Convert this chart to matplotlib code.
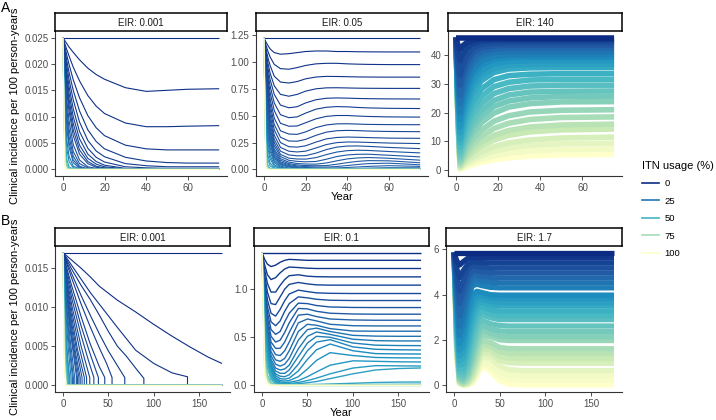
import numpy as np
import matplotlib
matplotlib.use("Agg")
import matplotlib.pyplot as plt
from matplotlib.colors import LinearSegmentedColormap
from matplotlib.lines import Line2D
from matplotlib.ticker import FormatStrFormatter

plt.rcParams['font.family'] = ['Liberation Sans', 'DejaVu Sans']

# ---------------- data ----------------
# A, EIR 0.001 : incidence values x 1e-3
a1_years = [0, 1, 2, 3, 5, 8, 12, 16, 20, 30, 40, 50, 60, 75]
a1_itn = [0, 1, 2, 3, 4, 5, 6, 7, 8, 9, 10, 12, 14, 16, 18, 20, 25, 30, 40, 50, 60, 70, 80, 90, 100]
a1_vals = [
    [25] * 14,
    [25, 24.4, 23.8, 23.2, 22.2, 20.8, 19.2, 18.0, 17.1, 15.5, 14.8, 15.0, 15.2, 15.3],
    [25, 23.8, 22.6, 21.5, 19.4, 16.8, 14.0, 12.0, 10.6, 8.8, 8.1, 8.1, 8.2, 8.3],
    [25, 23.2, 21.5, 19.9, 17.0, 13.6, 10.2, 7.9, 6.4, 4.6, 3.9, 3.7, 3.7, 3.7],
    [25, 22.6, 20.4, 18.4, 15.0, 11.1, 7.5, 5.3, 3.9, 2.3, 1.6, 1.3, 1.2, 1.2],
    [25, 22.0, 19.4, 17.0, 13.2, 9.0, 5.5, 3.5, 2.4, 1.1, 0.7, 0.5, 0.5, 0.5],
    [25, 21.4, 18.3, 15.7, 11.5, 7.2, 4.0, 2.3, 1.4, 0.5, 0.3, 0.2, 0.2, 0.2],
    [25, 20.8, 17.3, 14.4, 10.0, 5.8, 2.9, 1.5, 0.8, 0.2, 0.1, 0.1, 0.1, 0.1],
    [25, 20.2, 16.3, 13.2, 8.7, 4.6, 2.1, 1.0, 0.5, 0.1, 0, 0, 0, 0],
    [25, 19.6, 15.4, 12.1, 7.5, 3.7, 1.5, 0.6, 0.3, 0.05, 0, 0, 0, 0],
    [25, 19.0, 14.5, 11.0, 6.4, 2.9, 1.1, 0.4, 0.2, 0, 0, 0, 0, 0],
    [25, 17.8, 12.8, 9.2, 4.7, 1.8, 0.5, 0.2, 0.1, 0, 0, 0, 0, 0],
    [25, 16.7, 11.2, 7.6, 3.4, 1.1, 0.3, 0.1, 0, 0, 0, 0, 0, 0],
    [25, 15.6, 9.8, 6.2, 2.5, 0.6, 0.1] + [0] * 7,
    [25, 14.6, 8.6, 5.1, 1.8, 0.4, 0.1] + [0] * 7,
    [25, 13.6, 7.5, 4.2, 1.3, 0.2] + [0] * 8,
    [25, 11.4, 5.3, 2.5, 0.6, 0.1] + [0] * 8,
    [25, 9.5, 3.7, 1.5, 0.3] + [0] * 9,
    [25, 6.6, 1.8, 0.5, 0.05] + [0] * 9,
    [25, 4.5, 0.9, 0.2] + [0] * 10,
    [25, 3.0, 0.4, 0.1] + [0] * 10,
    [25, 2.0, 0.2] + [0] * 11,
    [25, 1.3, 0.1] + [0] * 11,
    [25, 0.8] + [0] * 12,
    [25, 0.5] + [0] * 12,
]

# A, EIR 0.05
a2_years = [0, 1, 2, 3, 5, 8, 12, 16, 20, 25, 30, 35, 40, 45, 50, 60, 75]
a2_itn = list(range(0, 21)) + [22, 24, 27, 30, 35, 40, 50, 60, 70, 80, 90, 100]
a2_vals = [
    [1.23] * 17,
    [1.23, 1.19, 1.155, 1.125, 1.09, 1.075, 1.08, 1.09, 1.10, 1.105, 1.105, 1.10, 1.10, 1.098, 1.097, 1.096, 1.096],
    [1.23, 1.16, 1.10, 1.05, 0.98, 0.94, 0.935, 0.95, 0.97, 0.985, 0.99, 0.99, 0.985, 0.982, 0.98, 0.978, 0.978],
    [1.23, 1.13, 1.04, 0.97, 0.87, 0.815, 0.806, 0.82, 0.845, 0.862, 0.868, 0.867, 0.865, 0.863, 0.862, 0.861, 0.861],
    [1.23, 1.10, 0.99, 0.90, 0.78, 0.70, 0.683, 0.70, 0.73, 0.752, 0.761, 0.762, 0.760, 0.758, 0.757, 0.756, 0.756],
    [1.23, 1.07, 0.94, 0.84, 0.70, 0.60, 0.575, 0.585, 0.62, 0.650, 0.664, 0.667, 0.665, 0.662, 0.66, 0.658, 0.657],
    [1.23, 1.04, 0.89, 0.78, 0.62, 0.51, 0.483, 0.49, 0.525, 0.562, 0.58, 0.586, 0.584, 0.578, 0.574, 0.57, 0.568],
    [1.23, 1.01, 0.85, 0.72, 0.55, 0.43, 0.403, 0.405, 0.435, 0.472, 0.495, 0.503, 0.503, 0.498, 0.494, 0.49, 0.488],
    [1.23, 0.98, 0.80, 0.66, 0.48, 0.36, 0.33, 0.327, 0.35, 0.39, 0.415, 0.425, 0.426, 0.423, 0.42, 0.418, 0.417],
    [1.23, 0.95, 0.76, 0.61, 0.42, 0.30, 0.265, 0.263, 0.28, 0.318, 0.348, 0.361, 0.364, 0.362, 0.358, 0.354, 0.352],
    [1.23, 0.92, 0.72, 0.56, 0.37, 0.25, 0.212, 0.208, 0.22, 0.255, 0.285, 0.298, 0.302, 0.30, 0.297, 0.292, 0.290],
    [1.23, 0.89, 0.68, 0.51, 0.32, 0.205, 0.17, 0.163, 0.17, 0.20, 0.232, 0.25, 0.256, 0.255, 0.252, 0.246, 0.241],
    [1.23, 0.86, 0.64, 0.47, 0.28, 0.17, 0.135, 0.127, 0.128, 0.152, 0.185, 0.208, 0.218, 0.219, 0.215, 0.205, 0.194],
    [1.23, 0.83, 0.60, 0.43, 0.25, 0.14, 0.105, 0.097, 0.096, 0.11, 0.138, 0.162, 0.175, 0.179, 0.177, 0.167, 0.154],
    [1.23, 0.80, 0.56, 0.39, 0.22, 0.12, 0.085, 0.075, 0.071, 0.074, 0.095, 0.12, 0.135, 0.141, 0.142, 0.132, 0.117],
    [1.23, 0.77, 0.53, 0.36, 0.19, 0.10, 0.068, 0.055, 0.05, 0.049, 0.06, 0.08, 0.098, 0.107, 0.111, 0.104, 0.086],
    [1.23, 0.74, 0.50, 0.33, 0.17, 0.085, 0.055, 0.042, 0.036, 0.034, 0.036, 0.048, 0.063, 0.075, 0.082, 0.08, 0.062],
    [1.23, 0.71, 0.47, 0.30, 0.15, 0.07, 0.045, 0.032, 0.026, 0.023, 0.022, 0.027, 0.036, 0.046, 0.054, 0.058, 0.043],
    [1.23, 0.68, 0.44, 0.28, 0.13, 0.06, 0.036, 0.024, 0.018, 0.014, 0.013, 0.014, 0.018, 0.023, 0.028, 0.035, 0.028],
    [1.23, 0.65, 0.41, 0.26, 0.115, 0.05, 0.029, 0.018, 0.012, 0.008, 0.006, 0.006, 0.007, 0.009, 0.012, 0.016, 0.015],
    [1.23, 0.62, 0.38, 0.24, 0.10, 0.042, 0.022, 0.013, 0.008, 0.005, 0.003, 0.003, 0.003, 0.004, 0.005, 0.007, 0.008],
    [1.23, 0.57, 0.33, 0.20, 0.08, 0.03, 0.013, 0.007, 0.004, 0.002, 0.001, 0.001, 0.001, 0.001, 0.002, 0.002, 0.003],
    [1.23, 0.52, 0.29, 0.17, 0.065, 0.02, 0.008, 0.004, 0.002, 0.001] + [0] * 7,
    [1.23, 0.46, 0.24, 0.13, 0.045, 0.012, 0.004, 0.002, 0.001] + [0] * 8,
    [1.23, 0.40, 0.19, 0.10, 0.03, 0.007, 0.002, 0.001] + [0] * 9,
    [1.23, 0.32, 0.13, 0.06, 0.015, 0.003, 0.001] + [0] * 10,
    [1.23, 0.25, 0.09, 0.035, 0.007, 0.001] + [0] * 11,
    [1.23, 0.15, 0.04, 0.012, 0.002] + [0] * 12,
    [1.23, 0.09, 0.018, 0.004] + [0] * 13,
    [1.23, 0.055, 0.008, 0.001] + [0] * 13,
    [1.23, 0.035, 0.004] + [0] * 14,
    [1.23, 0.022, 0.002] + [0] * 14,
    [1.23, 0.014, 0.001] + [0] * 14,
]

# A, EIR 140
a3_years = [0, 1, 2, 3, 5, 8, 12, 18, 25, 35, 50, 75]
a3_itn = list(range(0, 101, 4))
a3_vals = [
    [46] * 12,
    [46, 43.4, 42, 43.0, 44.2, 45.0, 45.4, 45.5, 45.5, 45.5, 45.5, 45.5],
    [46, 40.8, 38, 39.9, 42.3, 43.9, 44.7, 45.0, 45, 45, 45, 45],
    [46, 37.5, 33, 35.9, 39.6, 42.3, 43.6, 44.1, 44.2, 44.2, 44.2, 44.2],
    [46, 35.3, 29.5, 32.9, 37.3, 40.7, 42.4, 43.1, 43.3, 43.3, 43.3, 43.3],
    [46, 33.0, 26, 29.8, 34.9, 38.9, 41.1, 42.1, 42.3, 42.3, 42.3, 42.3],
    [46, 31.1, 23, 27.0, 32.6, 37.1, 39.7, 40.9, 41.1, 41.2, 41.2, 41.2],
    [46, 29.1, 20, 24.1, 29.9, 34.9, 37.9, 39.5, 39.9, 40.0, 40.0, 40.0],
    [46, 27.5, 17.5, 21.6, 27.6, 33.0, 36.5, 38.4, 39.0, 39.2, 39.2, 39.2],
    [46, 25.8, 15, 19.0, 25.1, 30.8, 34.6, 36.9, 37.7, 38.0, 38.0, 38.0],
    [46, 24.5, 13, 16.9, 22.9, 28.6, 32.8, 35.4, 36.4, 36.7, 36.8, 36.8],
    [46, 23.3, 11, 14.8, 20.7, 26.5, 31.0, 33.9, 35.1, 35.5, 35.6, 35.6],
    [46, 22.3, 9.5, 12.9, 18.3, 23.8, 28.2, 31.4, 32.8, 33.3, 33.5, 33.5],
    [46, 21.3, 8, 11.1, 16.0, 21.3, 25.6, 29.0, 30.5, 31.3, 31.5, 31.5],
    [46, 20.5, 6.8, 9.5, 14.0, 19.0, 23.2, 26.6, 28.3, 29.2, 29.5, 29.5],
    [46, 19.7, 5.5, 8.0, 12.1, 16.7, 20.8, 24.2, 26.1, 27.1, 27.4, 27.5],
    [46, 19.0, 4.5, 6.7, 10.5, 14.8, 18.7, 22.1, 24.0, 25.1, 25.6, 25.7],
    [46, 18.4, 3.5, 5.5, 8.9, 12.8, 16.5, 19.8, 21.9, 23.1, 23.7, 23.8],
    [46, 17.9, 2.8, 4.4, 7.3, 10.7, 13.9, 17.0, 18.9, 20.2, 20.8, 21.0],
    [46, 17.5, 2.2, 3.6, 6.0, 8.9, 11.7, 14.5, 16.3, 17.6, 18.3, 18.5],
    [46, 17.2, 1.7, 2.8, 4.8, 7.3, 9.7, 12.1, 13.8, 15.0, 15.7, 16.0],
    [46, 16.9, 1.3, 2.3, 4.0, 6.1, 8.3, 10.5, 12.1, 13.3, 14.0, 14.3],
    [46, 16.7, 1.0, 1.7, 3.0, 4.7, 6.4, 8.2, 9.5, 10.5, 11.2, 11.5],
    [46, 16.5, 0.7, 1.3, 2.3, 3.7, 5.1, 6.6, 7.7, 8.6, 9.2, 9.4],
    [46, 16.4, 0.5, 0.9, 1.7, 2.8, 3.8, 5.0, 5.9, 6.7, 7.2, 7.4],
    [46, 16.3, 0.3, 0.6, 1.2, 1.9, 2.7, 3.6, 4.3, 4.9, 5.3, 5.5],
]

# B, EIR 0.001 : each line has its own years (extinction drops), values x 1e-3
b1_itn = [0, 1, 2, 3, 4, 5, 6, 7, 8, 9, 10, 11, 12, 13, 14, 15, 16, 18, 20, 22, 25, 30, 35, 40, 45, 50, 60, 70, 80, 90, 100]
b1_years = [
    [0, 175],
    [0, 10, 20, 30, 40, 50, 60, 80, 100, 120, 140, 160, 175],
    [0, 10, 20, 30, 40, 50, 60, 80, 100, 120, 137, 137, 175],
    [0, 10, 20, 30, 40, 50, 60, 70, 80, 89, 89, 175],
    [0, 10, 20, 30, 40, 50, 60, 68, 68, 175],
    [0, 10, 20, 30, 40, 48, 54, 54, 175],
    [0, 5, 10, 20, 30, 40, 46, 46, 175],
    [0, 5, 10, 20, 30, 39, 39, 175],
    [0, 5, 10, 20, 28, 34, 34, 175],
    [0, 5, 10, 20, 29.5, 29.5, 175],
    [0, 5, 10, 18, 26, 26, 175],
    [0, 5, 10, 16, 23.5, 23.5, 175],
    [0, 5, 10, 15, 21, 21, 175],
    [0, 5, 10, 14, 19, 19, 175],
    [0, 5, 10, 17.5, 17.5, 175],
    [0, 4, 8, 16, 16, 175],
    [0, 4, 8, 15, 15, 175],
    [0, 4, 8, 13, 13, 175],
    [0, 3, 7, 11.5, 11.5, 175],
    [0, 3, 6, 10.5, 10.5, 175],
    [0, 3, 6, 9, 9, 175],
    [0, 2, 5, 7.5, 7.5, 175],
    [0, 2, 4, 6.8, 6.8, 175],
    [0, 2, 4, 6, 6, 175],
    [0, 1, 3, 5.5, 5.5, 175],
    [0, 1, 3, 5, 5, 175],
    [0, 1, 3, 4.5, 175],
    [0, 1, 2.5, 4, 175],
    [0, 1, 2, 3.5, 175],
    [0, 1, 2, 3.5, 175],
    [0, 1, 2, 3.5, 175],
]
b1_vals = [
    [17, 17],
    [17, 16.0, 15.0, 13.9, 12.7, 11.8, 10.9, 9.4, 7.8, 6.3, 4.9, 3.6, 2.8],
    [17, 15.3, 13.6, 11.9, 10.4, 8.9, 7.4, 4.5, 2.8, 1.6, 1.1, 0, 0],
    [17, 14.8, 12.8, 11.0, 9.0, 6.9, 5.0, 3.7, 2.2, 0.9, 0, 0],
    [17, 14.2, 11.5, 9.0, 6.6, 4.4, 2.5, 1.0, 0, 0],
    [17, 13.6, 10.4, 7.5, 4.8, 2.8, 1.0, 0, 0],
    [17, 14.7, 12.6, 8.8, 5.3, 2.4, 1.0, 0, 0],
    [17, 14.3, 11.8, 7.6, 4.0, 1.0, 0, 0],
    [17, 13.8, 11.0, 6.4, 3.2, 1.0, 0, 0],
    [17, 13.2, 10.1, 5.0, 1.0, 0, 0],
    [17, 12.7, 9.3, 4.8, 1.0, 0, 0],
    [17, 12.2, 8.5, 4.6, 1.0, 0, 0],
    [17, 11.6, 7.7, 4.5, 1.0, 0, 0],
    [17, 11.1, 7.0, 4.1, 1.0, 0, 0],
    [17, 10.6, 6.2, 1.0, 0, 0],
    [17, 11.6, 7.5, 1.0, 0, 0],
    [17, 11.2, 7.0, 1.0, 0, 0],
    [17, 10.3, 5.8, 0.9, 0, 0],
    [17, 11.2, 5.8, 0.9, 0, 0],
    [17, 10.6, 6.0, 0.9, 0, 0],
    [17, 9.5, 4.5, 0.9, 0, 0],
    [17, 10.5, 3.8, 0.8, 0, 0],
    [17, 9.2, 4.4, 0.8, 0, 0],
    [17, 8.0, 3.0, 0.7, 0, 0],
    [17, 11.8, 4.0, 0.6, 0, 0],
    [17, 11.0, 3.4, 0.6, 0, 0],
    [17, 9.5, 2.2, 0, 0],
    [17, 8.0, 2.0, 0, 0],
    [17, 7.0, 2.5, 0, 0],
    [17, 6.0, 2.0, 0, 0],
    [17, 5.2, 1.6, 0, 0],
]

# B, EIR 0.1
b2_years = [0, 3, 6, 10, 15, 20, 25, 30, 40, 50, 60, 75, 100, 125, 150, 175]
b2_itn = list(range(0, 41, 2)) + [42, 45, 50, 60, 70, 80, 90, 100]
b2_vals = [
    [1.38] * 16,
    [1.38, 1.31, 1.26, 1.235, 1.25, 1.28, 1.30, 1.31, 1.305, 1.30, 1.30, 1.30, 1.30, 1.30, 1.30, 1.30],
    [1.38, 1.25, 1.15, 1.10, 1.12, 1.17, 1.21, 1.23, 1.225, 1.218, 1.215, 1.215, 1.215, 1.215, 1.215, 1.215],
    [1.38, 1.20, 1.06, 0.97, 0.97, 1.04, 1.10, 1.14, 1.15, 1.135, 1.13, 1.128, 1.128, 1.128, 1.128, 1.128],
    [1.38, 1.15, 0.97, 0.85, 0.84, 0.92, 1.00, 1.05, 1.07, 1.055, 1.045, 1.042, 1.042, 1.042, 1.042, 1.042],
    [1.38, 1.10, 0.89, 0.75, 0.72, 0.79, 0.88, 0.95, 0.99, 0.975, 0.962, 0.957, 0.955, 0.955, 0.955, 0.955],
    [1.38, 1.06, 0.82, 0.66, 0.62, 0.67, 0.77, 0.85, 0.92, 0.91, 0.895, 0.885, 0.882, 0.882, 0.882, 0.882],
    [1.38, 1.02, 0.76, 0.58, 0.53, 0.56, 0.66, 0.75, 0.855, 0.85, 0.83, 0.815, 0.81, 0.809, 0.809, 0.809],
    [1.38, 0.98, 0.70, 0.51, 0.45, 0.47, 0.55, 0.65, 0.80, 0.795, 0.77, 0.75, 0.742, 0.74, 0.74, 0.74],
    [1.38, 0.94, 0.65, 0.45, 0.385, 0.385, 0.45, 0.55, 0.73, 0.74, 0.715, 0.69, 0.68, 0.677, 0.677, 0.677],
    [1.38, 0.90, 0.60, 0.40, 0.32, 0.31, 0.36, 0.45, 0.65, 0.69, 0.67, 0.635, 0.62, 0.618, 0.618, 0.618],
    [1.38, 0.87, 0.56, 0.35, 0.265, 0.25, 0.28, 0.36, 0.56, 0.635, 0.625, 0.59, 0.565, 0.563, 0.563, 0.563],
    [1.38, 0.84, 0.52, 0.31, 0.22, 0.20, 0.22, 0.28, 0.47, 0.58, 0.595, 0.56, 0.52, 0.512, 0.51, 0.51],
    [1.38, 0.81, 0.48, 0.27, 0.18, 0.16, 0.17, 0.21, 0.38, 0.51, 0.555, 0.53, 0.48, 0.465, 0.462, 0.462],
    [1.38, 0.78, 0.45, 0.24, 0.15, 0.125, 0.125, 0.16, 0.30, 0.44, 0.51, 0.50, 0.44, 0.418, 0.414, 0.413],
    [1.38, 0.75, 0.42, 0.21, 0.12, 0.095, 0.09, 0.11, 0.22, 0.36, 0.45, 0.475, 0.40, 0.375, 0.37, 0.368],
    [1.38, 0.72, 0.39, 0.19, 0.10, 0.07, 0.065, 0.075, 0.15, 0.27, 0.37, 0.43, 0.36, 0.33, 0.327, 0.326],
    [1.38, 0.69, 0.36, 0.17, 0.08, 0.05, 0.045, 0.05, 0.09, 0.17, 0.26, 0.34, 0.31, 0.29, 0.286, 0.285],
    [1.38, 0.66, 0.33, 0.15, 0.065, 0.035, 0.03, 0.032, 0.05, 0.09, 0.14, 0.21, 0.255, 0.25, 0.245, 0.243],
    [1.38, 0.63, 0.31, 0.13, 0.052, 0.025, 0.02, 0.02, 0.03, 0.05, 0.075, 0.12, 0.18, 0.205, 0.203, 0.201],
    [1.38, 0.60, 0.28, 0.11, 0.04, 0.018, 0.013, 0.012, 0.017, 0.027, 0.04, 0.07, 0.12, 0.16, 0.175, 0.181],
    [1.38, 0.57, 0.26, 0.10, 0.033, 0.013, 0.008, 0.006, 0.006, 0.008, 0.01, 0.014, 0.022, 0.03, 0.034, 0.035],
    [1.38, 0.53, 0.23, 0.08, 0.025, 0.008, 0.004, 0.003, 0.003, 0.004, 0.005, 0.006, 0.008, 0.01, 0.011, 0.012],
    [1.38, 0.46, 0.18, 0.06, 0.015, 0.004, 0.001] + [0] * 9,
    [1.38, 0.35, 0.11, 0.03, 0.006, 0.001] + [0] * 10,
    [1.38, 0.26, 0.07, 0.015, 0.002] + [0] * 11,
    [1.38, 0.19, 0.04, 0.008, 0.001] + [0] * 11,
    [1.38, 0.14, 0.025, 0.004] + [0] * 12,
    [1.38, 0.10, 0.015, 0.002] + [0] * 12,
]

# B, EIR 1.7
b3_years = [0, 3, 6, 10, 15, 20, 25, 30, 40, 50, 60, 75, 100, 175]
b3_itn = list(range(0, 97, 4)) + [98, 100]
b3_vals = [
    [5.85] * 14,
    [5.85, 5.5, 5.3, 5.45, 5.6, 5.64, 5.63, 5.62, 5.62, 5.62, 5.62, 5.62, 5.62, 5.62],
    [5.85, 5.15, 4.75, 5.05, 5.35, 5.45, 5.43, 5.41, 5.4, 5.4, 5.4, 5.4, 5.4, 5.4],
    [5.85, 4.8, 4.15, 4.6, 5.1, 5.27, 5.24, 5.2, 5.18, 5.18, 5.18, 5.18, 5.18, 5.18],
    [5.85, 4.5, 3.6, 4.15, 4.8, 5.06, 5.05, 5.0, 4.97, 4.96, 4.96, 4.96, 4.96, 4.96],
    [5.85, 4.2, 3.05, 3.65, 4.5, 4.85, 4.86, 4.8, 4.75, 4.74, 4.74, 4.74, 4.74, 4.74],
    [5.85, 3.9, 2.6, 3.15, 4.15, 4.62, 4.66, 4.6, 4.54, 4.52, 4.52, 4.52, 4.52, 4.52],
    [5.85, 3.65, 2.2, 2.7, 3.8, 4.38, 4.46, 4.4, 4.32, 4.3, 4.3, 4.3, 4.3, 4.3],
    [5.85, 3.4, 1.85, 2.25, 3.35, 4.0, 4.15, 4.1, 4.0, 3.98, 3.98, 3.98, 3.98, 3.98],
    [5.85, 3.2, 1.55, 1.85, 2.95, 3.7, 3.95, 3.95, 3.86, 3.84, 3.84, 3.84, 3.84, 3.84],
    [5.85, 3.0, 1.3, 1.5, 2.55, 3.4, 3.78, 3.8, 3.69, 3.66, 3.66, 3.66, 3.66, 3.66],
    [5.85, 2.8, 1.08, 1.2, 2.15, 3.1, 3.58, 3.66, 3.54, 3.5, 3.5, 3.5, 3.5, 3.5],
    [5.85, 2.6, 0.9, 0.95, 1.8, 2.78, 3.35, 3.48, 3.33, 3.28, 3.28, 3.28, 3.28, 3.28],
    [5.85, 2.45, 0.74, 0.74, 1.48, 2.45, 3.1, 3.3, 3.14, 3.08, 3.08, 3.08, 3.08, 3.08],
    [5.85, 2.3, 0.6, 0.56, 1.18, 2.12, 2.85, 3.12, 2.98, 2.9, 2.9, 2.9, 2.9, 2.9],
    [5.85, 2.15, 0.49, 0.42, 0.92, 1.8, 2.55, 2.88, 2.72, 2.64, 2.62, 2.62, 2.62, 2.62],
    [5.85, 2.0, 0.4, 0.31, 0.7, 1.5, 2.25, 2.65, 2.5, 2.4, 2.38, 2.38, 2.38, 2.38],
    [5.85, 1.9, 0.33, 0.22, 0.52, 1.22, 1.98, 2.42, 2.3, 2.18, 2.15, 2.15, 2.15, 2.15],
    [5.85, 1.8, 0.27, 0.16, 0.38, 0.98, 1.72, 2.2, 2.15, 2.01, 1.98, 1.98, 1.98, 1.98],
    [5.85, 1.7, 0.22, 0.11, 0.27, 0.76, 1.45, 1.98, 1.9, 1.68, 1.63, 1.62, 1.62, 1.62],
    [5.85, 1.6, 0.18, 0.08, 0.19, 0.58, 1.22, 1.78, 1.72, 1.48, 1.41, 1.4, 1.4, 1.4],
    [5.85, 1.52, 0.15, 0.055, 0.13, 0.44, 1.02, 1.6, 1.56, 1.28, 1.2, 1.18, 1.18, 1.18],
    [5.85, 1.45, 0.12, 0.038, 0.09, 0.33, 0.84, 1.42, 1.4, 1.1, 1.0, 0.98, 0.98, 0.98],
    [5.85, 1.38, 0.1, 0.025, 0.06, 0.24, 0.68, 1.25, 1.2, 0.85, 0.7, 0.66, 0.66, 0.66],
    [5.85, 1.3, 0.08, 0.015, 0.04, 0.17, 0.54, 1.08, 0.95, 0.6, 0.47, 0.44, 0.44, 0.44],
    [5.85, 1.26, 0.07, 0.01, 0.03, 0.13, 0.46, 0.98, 0.78, 0.42, 0.26, 0.22, 0.22, 0.22],
    [5.85, 1.22, 0.06, 0.006, 0.02, 0.1, 0.38, 0.88, 0.6, 0.2, 0.05, 0.02, 0.02, 0.02],
]

legend_levels = [0, 25, 50, 75, 100]

# ---------------- figure ----------------
W, H = 716, 420
fig = plt.figure(figsize=(W / 100, H / 100), dpi=100)
cmap = LinearSegmentedColormap.from_list(
    'ylgnbu', ["#0C2C84", "#225EA8", "#1D91C0", "#41B6C4", "#7FCDBB", "#C7E9B4", "#FFFFCC"])


def box(x0, y0, x1, y1):
    # pixel box (top-left origin) -> figure rect
    return [x0 / W, 1 - y1 / H, (x1 - x0) / W, (y1 - y0) / H]


def panel(px, title, itn, years, vals, scale, lw, xticks, yticks, yfmt, reverse=False):
    ax = fig.add_axes(box(*px))
    order = range(len(itn))
    if reverse:
        order = reversed(order)
    for i in order:
        ax.plot(years[i], np.array(vals[i], dtype=float) * scale,
                color=cmap(itn[i] / 100), lw=lw,
                solid_joinstyle='round', solid_capstyle='butt')
    ax.margins(x=0.05, y=0.05)
    for s in ('top', 'right'):
        ax.spines[s].set_visible(False)
    for s in ('left', 'bottom'):
        ax.spines[s].set_color('#333333')
        ax.spines[s].set_linewidth(0.8)
    ax.set_xticks(xticks)
    ax.set_yticks(yticks)
    ax.yaxis.set_major_formatter(FormatStrFormatter(yfmt))
    ax.tick_params(length=2.75, width=0.6, color='#333333', labelsize=7,
                   labelcolor='#4d4d4d', pad=2)
    # facet strip
    sx = fig.add_axes(box(px[0], px[1] - 18, px[2], px[1]))
    sx.set_xticks([])
    sx.set_yticks([])
    for s in sx.spines.values():
        s.set_linewidth(1.1)
        s.set_color('black')
    sx.text(0.5, 0.45, title, ha='center', va='center', fontsize=7, color='#1a1a1a')
    return ax


xa = [0, 20, 40, 60]
xb = [0, 50, 100, 150]
panel((55, 31, 227, 176), 'EIR: 0.001', a1_itn, [a1_years] * len(a1_itn), a1_vals, 1e-3, 0.8,
      xa, [0, 0.005, 0.010, 0.015, 0.020, 0.025], '%.3f')
panel((256, 31, 428, 176), 'EIR: 0.05', a2_itn, [a2_years] * len(a2_itn), a2_vals, 1, 0.8,
      xa, [0, 0.25, 0.5, 0.75, 1.0, 1.25], '%.2f')
panel((448, 31, 622, 176), 'EIR: 140', a3_itn, [a3_years] * len(a3_itn), a3_vals, 1, 4.0,
      xa, [0, 10, 20, 30, 40], '%d', reverse=True)
panel((55, 246, 230, 392), 'EIR: 0.001', b1_itn, b1_years, b1_vals, 1e-3, 0.8,
      xb, [0, 0.005, 0.010, 0.015], '%.3f')
panel((254, 246, 429, 392), 'EIR: 0.1', b2_itn, [b2_years] * len(b2_itn), b2_vals, 1, 1.0,
      xb, [0, 0.5, 1.0], '%.1f')
panel((446, 246, 622, 392), 'EIR: 1.7', b3_itn, [b3_years] * len(b3_itn), b3_vals, 1, 3.8,
      xb, [0, 2, 4, 6], '%d', reverse=True)

# labels
ylab = 'Clinical incidence per 100 person-years'
fig.text(15.5 / W, 1 - 106 / H, ylab, rotation=90, ha='center', va='center', fontsize=8)
fig.text(15.5 / W, 1 - 317 / H, ylab, rotation=90, ha='center', va='center', fontsize=8)
fig.text(342 / W, 1 - 197 / H, 'Year', ha='center', va='center', fontsize=8)
fig.text(341 / W, 1 - 413 / H, 'Year', ha='center', va='center', fontsize=8)
fig.text(1 / W, 1 - 8 / H, 'A', ha='left', va='center', fontsize=10)
fig.text(1 / W, 1 - 221 / H, 'B', ha='left', va='center', fontsize=10)

# legend
handles = [Line2D([], [], color=cmap(v / 100), lw=1.2) for v in legend_levels]
fig.legend(handles, [str(v) for v in legend_levels], title='ITN usage (%)',
           loc='upper left', bbox_to_anchor=(637 / W, 1 - 156 / H), frameon=False,
           fontsize=6.8, title_fontsize=8, handlelength=1.8, handletextpad=0.6,
           labelspacing=0.9, borderpad=0, alignment='left')

fig.savefig('out.png', dpi=100)
